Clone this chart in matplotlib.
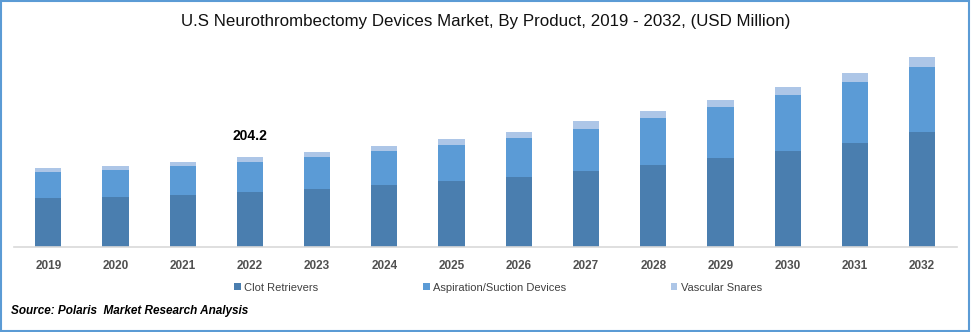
import numpy as np
import matplotlib.pyplot as plt
from matplotlib.patches import Rectangle

plt.rcParams['font.family'] = ['Liberation Sans', 'DejaVu Sans']

years = ['2019', '2020', '2021', '2022', '2023', '2024', '2025',
         '2026', '2027', '2028', '2029', '2030', '2031', '2032']
clot_retrievers = [111.2, 113.4, 118.0, 124.8, 131.6, 140.7, 149.7,
                   158.8, 172.4, 186.1, 201.9, 217.8, 236.0, 258.7]
aspiration = [59.0, 61.3, 65.8, 68.1, 72.6, 77.1, 81.7,
              88.5, 95.3, 104.4, 113.4, 124.8, 136.1, 147.5]
vascular_snares = [9.1, 9.1, 9.1, 11.3, 11.3, 11.3, 13.6,
                   13.6, 15.9, 15.9, 15.9, 18.2, 20.4, 22.7]
series_names = ['Clot Retrievers', 'Aspiration/Suction Devices', 'Vascular Snares']
colors = ['#4A7EAF', '#5B9BD6', '#ADC6E7']

fig = plt.figure(figsize=(9.71, 3.32), dpi=100)
ax = fig.add_axes([0.0144, 0.256, 0.9712, 0.60])

x = np.arange(len(years))
w = 0.39
b1 = ax.bar(x, clot_retrievers, w, color=colors[0], label=series_names[0])
b2 = ax.bar(x, aspiration, w, bottom=clot_retrievers, color=colors[1], label=series_names[1])
bottom3 = np.array(clot_retrievers) + np.array(aspiration)
b3 = ax.bar(x, vascular_snares, w, bottom=bottom3, color=colors[2], label=series_names[2])

# value label above 2022 stack
totals = bottom3 + np.array(vascular_snares)
ax.annotate(f'{totals[3]:.1f}', (x[3], totals[3]), xytext=(0, 15), textcoords='offset points',
            ha='center', va='center', fontsize=10, fontweight='bold', color='black')

ax.set_xlim(-0.51, 13.52)
ax.set_ylim(0, 450)
ax.set_yticks([])
ax.set_xticks(x)
ax.set_xticklabels(years, fontsize=8.5, fontweight='bold', color='#505050')
ax.tick_params(axis='x', length=0, pad=9)
for s in ['top', 'right', 'left']:
    ax.spines[s].set_visible(False)
ax.spines['bottom'].set_color('#D9D9D9')
ax.spines['bottom'].set_linewidth(1.2)

fig.text(0.5, 0.935, 'U.S Neurothrombectomy Devices Market, By Product, 2019 - 2032, (USD Million)',
         ha='center', va='center', fontsize=12.2, color='#111111')

leg = fig.legend(handles=[b1, b2, b3], loc='center', bbox_to_anchor=(0.513, 0.133), ncol=3,
                 frameon=False, fontsize=8, handlelength=0.6, handleheight=0.6,
                 handletextpad=0.3, columnspacing=9.4)
for t in leg.get_texts():
    t.set_color('#404040')

fig.text(0.011, 0.062, 'Source: Polaris  Market Research Analysis', ha='left', va='center',
         fontsize=8.5, fontweight='bold', fontstyle='italic', color='black')

fig.patches.append(Rectangle((0.001, 0.002), 0.997, 0.995, transform=fig.transFigure,
                             fill=False, edgecolor='#5B9BD5', linewidth=1.5))

fig.savefig('out.png', dpi=100)
